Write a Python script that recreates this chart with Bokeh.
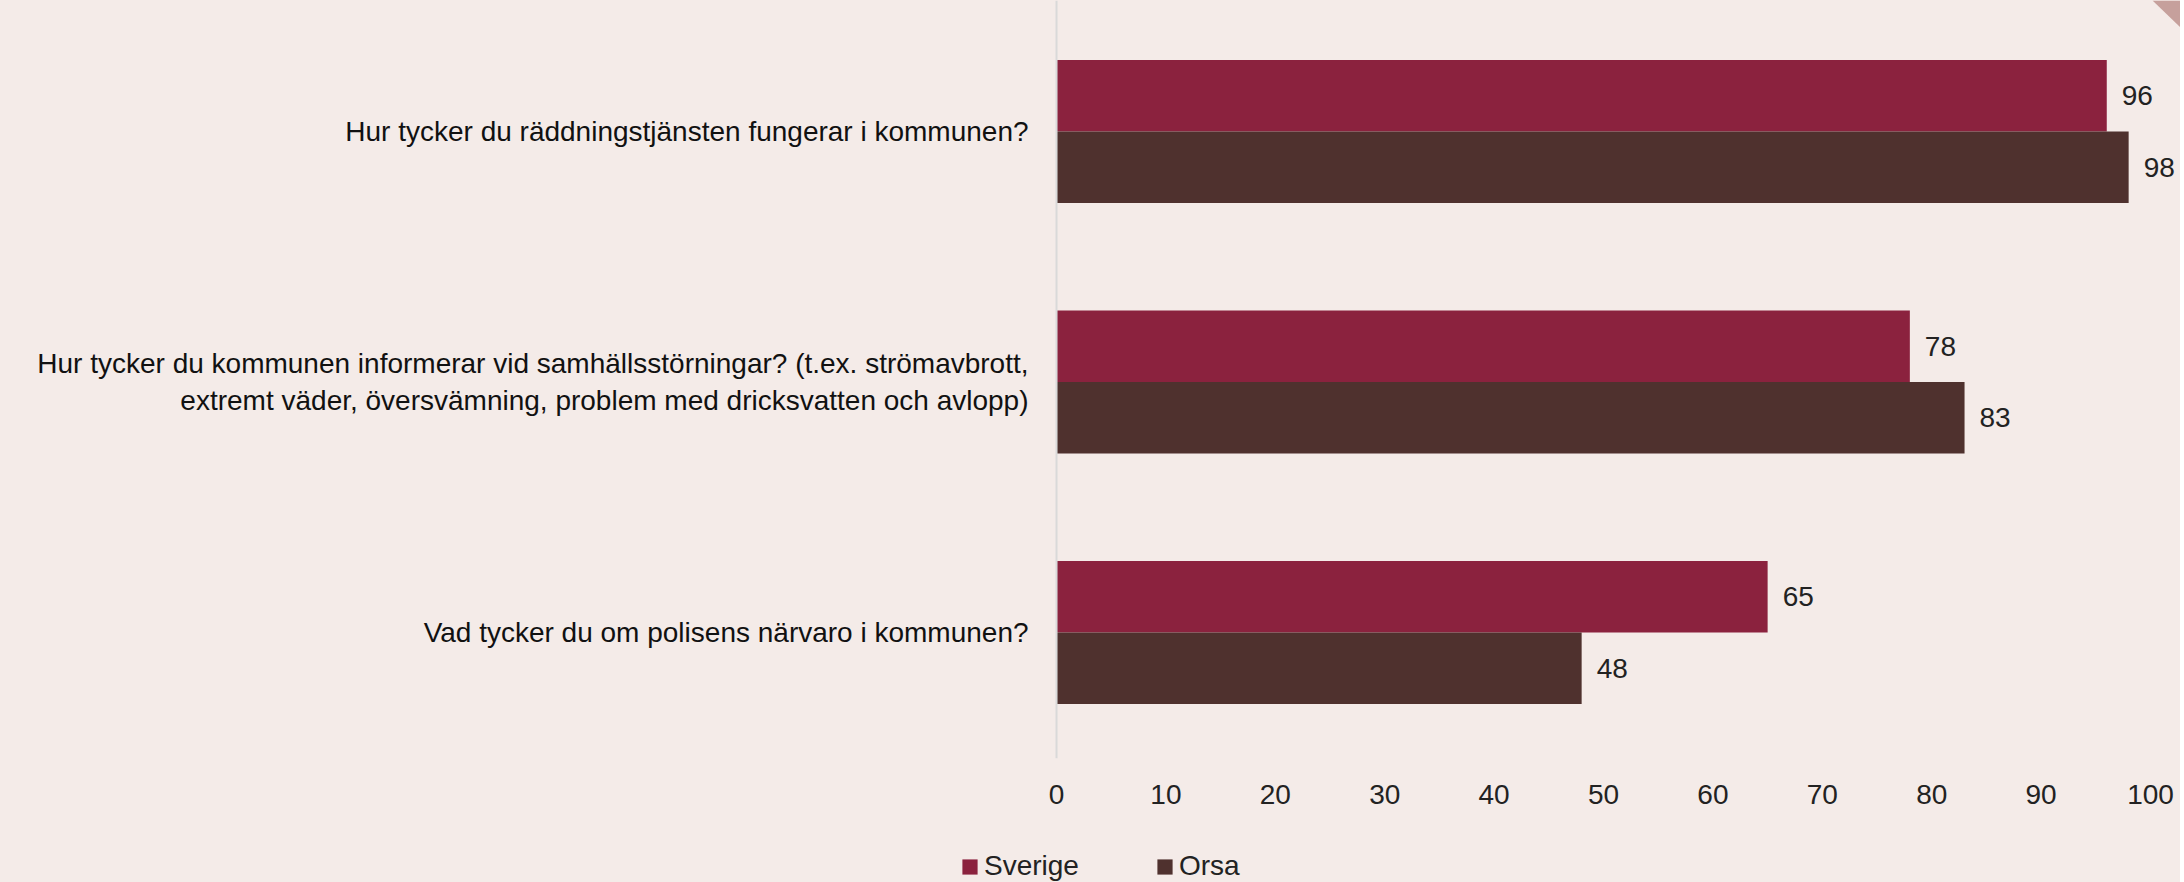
from bokeh.plotting import figure
from bokeh.layouts import column
from bokeh.models import (ColumnDataSource, Range1d, Span, Legend, LegendItem, FixedTicker,
                          PolyAnnotation)
from bokeh.core.properties import value
from bokeh.embed import file_html
from bokeh.resources import INLINE

categories = [
    "Hur tycker du räddningstjänsten fungerar i kommunen?",
    "Hur tycker du kommunen informerar vid samhällsstörningar? (t.ex. strömavbrott,\nextremt väder, översvämning, problem med dricksvatten och avlopp)",
    "Vad tycker du om polisens närvaro i kommunen?",
]
series_names = ["Sverige", "Orsa"]
sverige = [96, 78, 65]
orsa = [98, 83, 48]
x_ticks = [0, 10, 20, 30, 40, 50, 60, 70, 80, 90, 100]

BG = "#f4ebe8"
C_SV = "#8b223e"
C_OR = "#4f312e"
FONT = "Liberation Sans"

n = len(categories)
ypos = [n - 1 - i for i in range(n)]
bh = 0.285

source = ColumnDataSource(dict(
    cat=categories,
    y=ypos,
    y_sv=[y + bh / 2 for y in ypos],
    y_or=[y - bh / 2 for y in ypos],
    sverige=sverige,
    orsa=orsa,
    sverige_lbl=[str(v) for v in sverige],
    orsa_lbl=[str(v) for v in orsa],
    zero=[0] * n,
))

W = 2180
FRAME_H = 758
H_MAIN = 812
H_LEG = 70

p = figure(
    width=W, height=H_MAIN,
    y_range=Range1d(-0.503, 2.523),
    x_range=Range1d(-96.53, 102.74),
    output_backend="svg", toolbar_location=None,
    min_border_left=0, min_border_right=0, min_border_top=0, min_border_bottom=H_MAIN - FRAME_H,
    background_fill_color=BG, border_fill_color=BG,
    styles={"background-color": BG},
)
p.outline_line_color = None
p.grid.visible = False

r1 = p.hbar(y="y_sv", right="sverige", left=0, height=bh,
            source=source, fill_color=C_SV, line_color=None)
r2 = p.hbar(y="y_or", right="orsa", left=0, height=bh,
            source=source, fill_color=C_OR, line_color=None)

lab_kw = dict(text_font=value(FONT), text_font_size="28px", text_color="#222222",
              text_baseline="middle", text_align="left", x_offset=15)
p.text(x="sverige", y="y_sv", text="sverige_lbl", source=source, **lab_kw)
p.text(x="orsa", y="y_or", text="orsa_lbl", source=source, **lab_kw)

# category labels
p.text(x="zero", y="y", text="cat", source=source, x_offset=-28,
       text_align="right", text_baseline="middle", text_line_height=1.2,
       text_font=value(FONT), text_font_size="28px", text_color="#111111")

p.yaxis.visible = False
p.add_layout(Span(location=0, dimension="height", line_color="#d9d9d9", line_width=2))

xa = p.xaxis[0]
xa.ticker = FixedTicker(ticks=x_ticks)
xa.axis_line_color = None
xa.major_tick_line_color = None
xa.minor_tick_line_color = None
xa.major_label_standoff = 20
xa.major_label_text_font = FONT
xa.major_label_text_font_size = "28px"
xa.major_label_text_color = "#222222"

# decorative corner
p.add_layout(PolyAnnotation(xs=[100.18, 102.74, 102.74], ys=[2.523, 2.523, 2.415],
                            fill_color="#c6a09c", fill_alpha=1, line_color=None))

# legend strip
lf = figure(
    width=W, height=H_LEG, x_range=Range1d(0, 1), y_range=Range1d(0, 1),
    output_backend="svg", toolbar_location=None,
    min_border=0, background_fill_color=BG, border_fill_color=BG,
    styles={"background-color": BG},
)
lf.outline_line_color = None
lf.axis.visible = False
lf.grid.visible = False
q1 = lf.rect(x=[-5], y=[-5], width=[0.1], height=[0.1], fill_color=C_SV, line_color=None)
q2 = lf.rect(x=[-5], y=[-5], width=[0.1], height=[0.1], fill_color=C_OR, line_color=None)
legend = Legend(
    items=[LegendItem(label=series_names[0], renderers=[q1]),
           LegendItem(label=series_names[1], renderers=[q2])],
    orientation="horizontal", location=(960, 0),
    glyph_width=19, glyph_height=19, label_standoff=5, spacing=76,
    padding=0, margin=0, border_line_alpha=0, background_fill_alpha=0,
    label_text_font=FONT, label_text_font_size="28px", label_text_color="#222222",
)
lf.add_layout(legend, "center")

layout = column(p, lf, spacing=0, styles={"background-color": BG})
open("out.html", "w").write(file_html(layout, INLINE))
